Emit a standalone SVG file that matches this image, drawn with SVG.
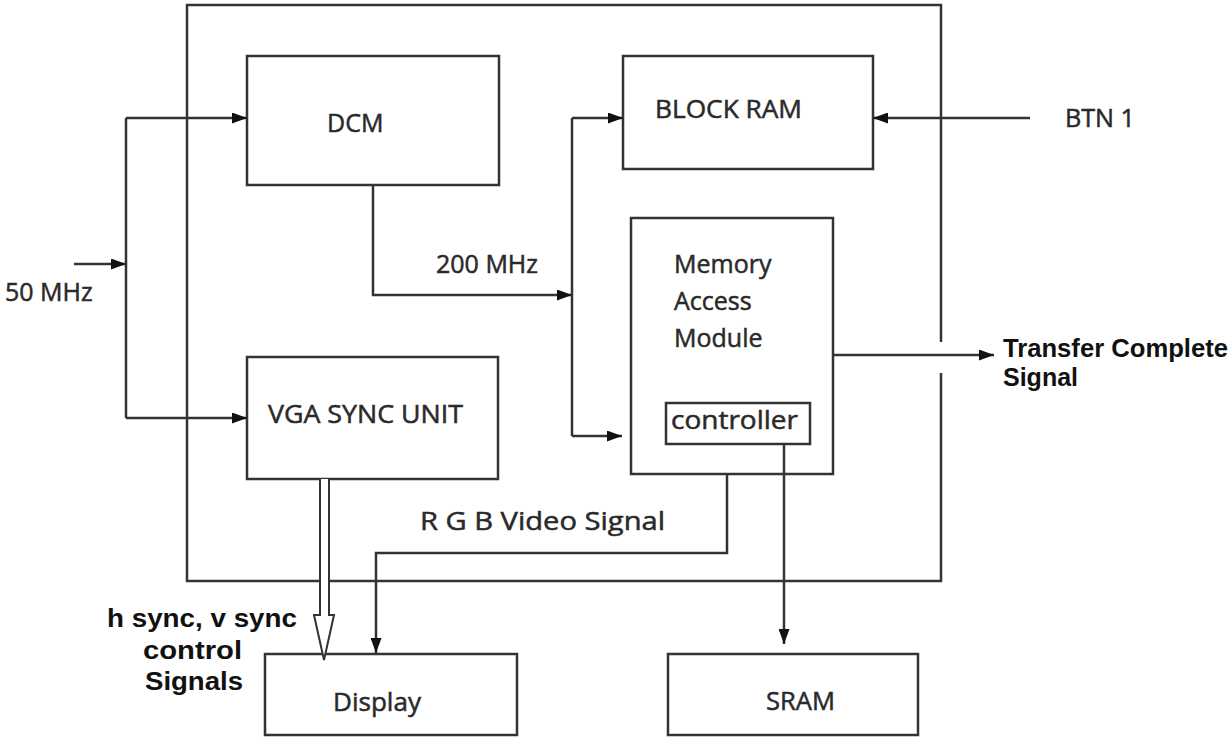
<svg xmlns="http://www.w3.org/2000/svg" width="1232" height="749" viewBox="0 0 1232 749">
<defs>
<marker id="arr" viewBox="0 0 15 11" refX="15" refY="5.5" markerWidth="15" markerHeight="11" markerUnits="userSpaceOnUse" orient="auto">
<path d="M0,0 L15,5.5 L0,11 z" fill="#111"/>
</marker>
</defs>
<style>
.box{fill:none;stroke:#333;stroke-width:2.5}
.ln{fill:none;stroke:#333;stroke-width:2.5}
.a{marker-end:url(#arr)}
.t{font-family:"Open Sans","Liberation Sans",sans-serif;font-size:25px;fill:#2a2a2a;stroke:#2a2a2a;stroke-width:0.5}
.b{font-family:"Liberation Sans",Arial,sans-serif;font-weight:bold;font-size:25px;fill:#111}
</style>
<rect width="1232" height="749" fill="#fff"/>
<g id="outer">
<path class="box" d="M941,342 V5 H187 V581 H941 V373"/>
</g>
<g id="dcm"><rect class="box" x="247" y="56" width="252" height="129"/><text class="t" x="327" y="132" font-size="26">DCM</text></g>
<g id="blockram"><rect class="box" x="623" y="56" width="250" height="113"/><text class="t" x="655" y="118" textLength="147" lengthAdjust="spacingAndGlyphs">BLOCK RAM</text></g>
<g id="mam"><rect class="box" x="631" y="218" width="202" height="256"/>
<text class="t" x="674" y="273">Memory</text><text class="t" x="674" y="310">Access</text><text class="t" x="674" y="347">Module</text></g>
<g id="controller"><rect class="box" x="666" y="403" width="144" height="41"/><text class="t" x="671" y="429" textLength="127" lengthAdjust="spacingAndGlyphs">controller</text></g>
<g id="vga"><rect class="box" x="247" y="357" width="251" height="122"/><text class="t" x="268" y="423" textLength="195" lengthAdjust="spacingAndGlyphs">VGA SYNC UNIT</text></g>
<g id="display"><rect class="box" x="265" y="654" width="252" height="81"/><text class="t" x="333" y="711" textLength="88" lengthAdjust="spacingAndGlyphs">Display</text></g>
<g id="sram"><rect class="box" x="668" y="654" width="250" height="81"/><text class="t" x="766" y="710" textLength="69" lengthAdjust="spacingAndGlyphs">SRAM</text></g>
<g id="labels">
<text class="t" x="5" y="301" font-size="26">50 MHz</text>
<text class="t" x="436" y="273">200 MHz</text>
<text class="t" x="1065" y="127" textLength="70" lengthAdjust="spacingAndGlyphs">BTN 1</text>
<text class="t" x="420" y="530" textLength="245" lengthAdjust="spacingAndGlyphs">R G B Video Signal</text>
<text class="b" x="1003" y="357" textLength="225" lengthAdjust="spacingAndGlyphs">Transfer Complete</text>
<text class="b" x="1003" y="386">Signal</text>
<text class="b" x="107" y="627" textLength="190" lengthAdjust="spacingAndGlyphs">h sync, v sync</text>
<text class="b" x="143" y="659" textLength="99" lengthAdjust="spacingAndGlyphs">control</text>
<text class="b" x="145" y="690" textLength="98" lengthAdjust="spacingAndGlyphs">Signals</text>
</g>
<g id="connectors">
<path class="ln a" d="M74,264 H126"/>
<path class="ln" d="M126,118 V418"/>
<path class="ln a" d="M126,118 H247"/>
<path class="ln a" d="M126,418 H247"/>
<path class="ln a" d="M373,185 V295 H572"/>
<path class="ln" d="M572,118 V436"/>
<path class="ln a" d="M572,118 H623"/>
<path class="ln a" d="M572,436 H622"/>
<path class="ln a" d="M1030,118 H873"/>
<path class="ln a" d="M833,355 H994"/>
<path class="ln a" d="M784,444 V644"/>
<path class="ln a" d="M727,474 V553 H376 V653"/>
<path d="M320,479 V615 H314 L324,660 L334,615 H329 V479" fill="#fff" stroke="#333" stroke-width="2"/>
</g>
</svg>
